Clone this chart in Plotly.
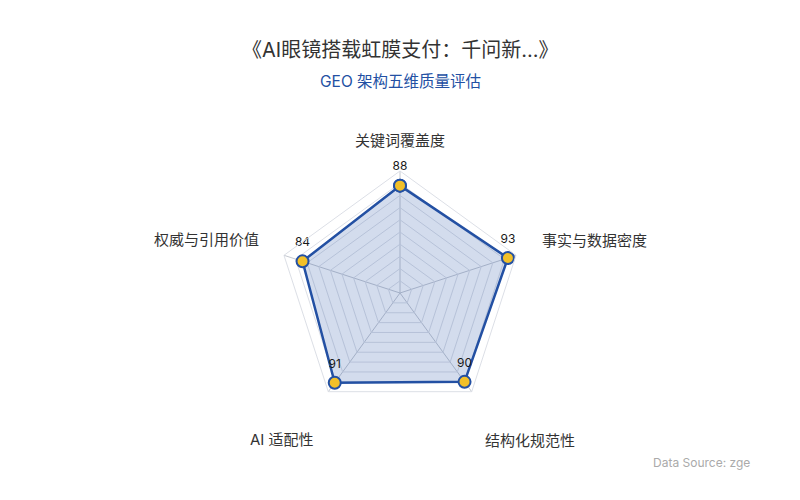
import plotly.graph_objects as go

categories = ["关键词覆盖度", "事实与数据密度", "结构化规范性", "AI 适配性", "权威与引用价值"]
scores = [88, 93, 90, 91, 84]
score_labels = [str(v) for v in scores]

title_text = "《AI眼镜搭载虹膜支付：千问新...》"
subtitle_text = "GEO 架构五维质量评估"
source_text = "Data Source: zge"

# label placement (target pixel coords) for category names
label_px = [
    (400, 140, "center"),
    (540, 241, "left"),
    (530, 440, "center"),
    (282, 439, "center"),
    (261, 240, "right"),
]

FONT = "Inter, Noto Sans CJK SC, sans-serif"
LINE = "#2350a3"
W, H = 800, 500
OFF = 8  # page body margin


def px(x, y):
    return (x - OFF) / W, 1 - (y - OFF) / H


fig = go.Figure()
fig.add_trace(go.Scatterpolar(
    r=scores + [scores[0]],
    theta=categories + [categories[0]],
    mode="lines+markers",
    fill="toself",
    fillcolor="rgba(35,80,163,0.2)",
    line=dict(color=LINE, width=2.5),
    marker=dict(size=12, color="#f2c029", line=dict(color=LINE, width=2)),
    hoverinfo="skip",
    showlegend=False,
))
fig.add_trace(go.Scatterpolar(
    r=scores,
    theta=categories,
    mode="markers+text",
    text=score_labels,
    textposition="top center",
    marker=dict(size=18, opacity=0),
    textfont=dict(size=12, color="#1a1a1a", family=FONT),
    hoverinfo="skip",
    showlegend=False,
))

cx, cy, R = 400 - OFF, 293 - OFF, 122
fig.update_layout(
    width=W, height=H,
    margin=dict(l=0, r=0, t=0, b=0),
    paper_bgcolor="white",
    plot_bgcolor="white",
    font=dict(family=FONT, color="#333333"),
    polar=dict(
        domain=dict(x=[(cx - R) / W, (cx + R) / W], y=[(H - cy - R) / H, (H - cy + R) / H]),
        gridshape="linear",
        bgcolor="white",
        radialaxis=dict(range=[0, 100], dtick=10, showticklabels=False, ticks="",
                        showline=False, gridcolor="#dcdfe6", gridwidth=1),
        angularaxis=dict(rotation=90, direction="clockwise", showticklabels=False, ticks="",
                         linecolor="#dcdfe6", gridcolor="#c4c8d0", gridwidth=1),
    ),
)

ann = []
tx, ty = px(400, 50)
ann.append(dict(text=title_text, x=tx, y=ty, font=dict(size=20, color="#333333", family=FONT),
                xanchor="center"))
sx, sy = px(400, 81)
ann.append(dict(text=subtitle_text, x=sx, y=sy, font=dict(size=15.5, color="#2350a3", family=FONT),
                xanchor="center"))
dx, dy = px(651, 462)
ann.append(dict(text=source_text, x=dx, y=dy, font=dict(size=12, color="#aaaaaa", family=FONT),
                xanchor="left"))
for c, (lx, ly, anc) in zip(categories, label_px):
    ax, ay = px(lx, ly)
    ann.append(dict(text=c, x=ax, y=ay, font=dict(size=15, color="#333333", family=FONT),
                    xanchor=anc))
for a in ann:
    a.update(xref="paper", yref="paper", showarrow=False, yanchor="middle")
fig.update_layout(annotations=ann)

fig.write_html("out.html")
